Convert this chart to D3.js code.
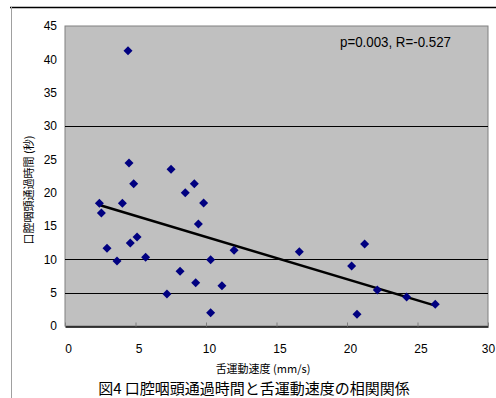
<!DOCTYPE html>
<html>
<head>
<meta charset="utf-8">
<script src="https://cdn.jsdelivr.net/npm/d3@7"></script>
<style>
  html, body { margin: 0; padding: 0; background: #fff; }
  svg { display: block; }
</style>
</head>
<body>
<div id="chart"></div>
<script>
// tongue speed (mm/s) vs oral-pharyngeal transit time (s)
const speed = [4.47, 4.54, 7.52, 4.87, 9.17, 8.53, 9.83, 2.44, 4.07, 2.58,
               9.46, 5.11, 4.63, 2.98, 11.99, 5.72, 10.33, 3.69, 8.16, 9.27,
               11.13, 7.23, 10.33, 16.62, 21.25, 20.33, 22.15, 24.23, 26.26, 20.71];
const transit = [41.3, 24.45, 23.5, 21.35, 21.35, 20.0, 18.45, 18.4, 18.4, 16.95,
                 15.3, 13.35, 12.45, 11.65, 11.35, 10.3, 9.95, 9.75, 8.2, 6.5,
                 6.05, 4.8, 2.0, 11.15, 12.3, 9.0, 5.4, 4.35, 3.25, 1.75];
const trendX = [2.44, 26.26];
const trendY = [18.15, 3.05];
const xTicks = [0, 5, 10, 15, 20, 25, 30];
const yTicks = [0, 5, 10, 15, 20, 25, 30, 35, 40, 45];
const gridLines = [5, 10, 30];

const W = 496, H = 398;
const plot = { left: 65, top: 26, right: 488, bottom: 326 };

const svg = d3.select("#chart").append("svg")
  .attr("width", W).attr("height", H);

// outer frame pieces
svg.append("line").attr("x1", 10).attr("x2", W).attr("y1", 7.5).attr("y2", 7.5)
  .attr("stroke", "#000").attr("stroke-width", 1.5);
svg.append("line").attr("x1", 11.5).attr("x2", 11.5).attr("y1", 7).attr("y2", H)
  .attr("stroke", "#a0a0a0").attr("stroke-width", 1);

const x = d3.scaleLinear().domain([0, 30]).range([plot.left, plot.right]);
const y = d3.scaleLinear().domain([0, 45]).range([plot.bottom, plot.top]);

svg.append("rect")
  .attr("x", plot.left).attr("y", plot.top)
  .attr("width", plot.right - plot.left).attr("height", plot.bottom - plot.top)
  .attr("fill", "#c0c0c0").attr("stroke", "#808080").attr("stroke-width", 1);

svg.selectAll("line.grid").data(gridLines).join("line")
  .attr("class", "grid")
  .attr("x1", plot.left).attr("x2", plot.right)
  .attr("y1", d => Math.round(y(d)) + 0.5).attr("y2", d => Math.round(y(d)) + 0.5)
  .attr("stroke", "#000").attr("stroke-width", 1);

// x axis: ticks point up into the plot
const xAxis = svg.append("g")
  .attr("transform", `translate(0,${plot.bottom + 0.5})`)
  .call(d3.axisBottom(x).tickValues(xTicks).tickSizeInner(-4).tickSizeOuter(0).tickPadding(18));
xAxis.select(".domain").attr("stroke", "#000").attr("stroke-width", 1.5);
xAxis.selectAll(".tick line").attr("stroke", "#808080");
xAxis.selectAll("text").attr("font-family", "Liberation Sans, Arial, sans-serif")
  .attr("font-size", 12).attr("fill", "#000")
  .attr("dx", d => d === 30 ? 0 : 3); // keep the last label inside the window

const yAxis = svg.append("g")
  .attr("transform", `translate(${plot.left},0)`)
  .call(d3.axisLeft(y).tickValues(yTicks).tickSize(0).tickPadding(8));
yAxis.select(".domain").remove();
yAxis.selectAll("text").attr("font-family", "Liberation Sans, Arial, sans-serif")
  .attr("font-size", 12).attr("fill", "#000");

// regression line
svg.append("path")
  .datum(d3.zip(trendX, trendY))
  .attr("d", d3.line().x(d => x(d[0])).y(d => y(d[1])))
  .attr("stroke", "#000").attr("stroke-width", 2.5).attr("fill", "none");

// diamond markers
const r = 4.5;
const diamond = `M0,${-r}L${r},0L0,${r}L${-r},0Z`;
svg.selectAll("path.pt").data(d3.zip(speed, transit)).join("path")
  .attr("class", "pt")
  .attr("d", diamond)
  .attr("transform", d => `translate(${x(d[0])},${y(d[1])})`)
  .attr("fill", "#000080");

svg.append("text")
  .attr("x", 340).attr("y", 47)
  .attr("font-family", "Liberation Sans, Arial, sans-serif")
  .attr("font-size", 15).attr("textLength", 111).attr("lengthAdjust", "spacingAndGlyphs")
  .text("p=0.003, R=-0.527");

const jp = "'Noto Sans CJK JP', sans-serif";
svg.append("text")
  .attr("x", 263).attr("y", 373)
  .attr("text-anchor", "middle")
  .attr("font-family", jp).attr("font-size", 11)
  .text("舌運動速度 (mm/s)");

svg.append("text")
  .attr("transform", "translate(33,190) rotate(-90)")
  .attr("text-anchor", "middle")
  .attr("font-family", jp).attr("font-size", 11)
  .text("口腔咽頭通過時間 (秒)");

svg.append("text")
  .attr("x", 254).attr("y", 394)
  .attr("text-anchor", "middle")
  .attr("font-family", jp).attr("font-size", 15)
  .text("図4 口腔咽頭通過時間と舌運動速度の相関関係");
</script>
</body>
</html>
